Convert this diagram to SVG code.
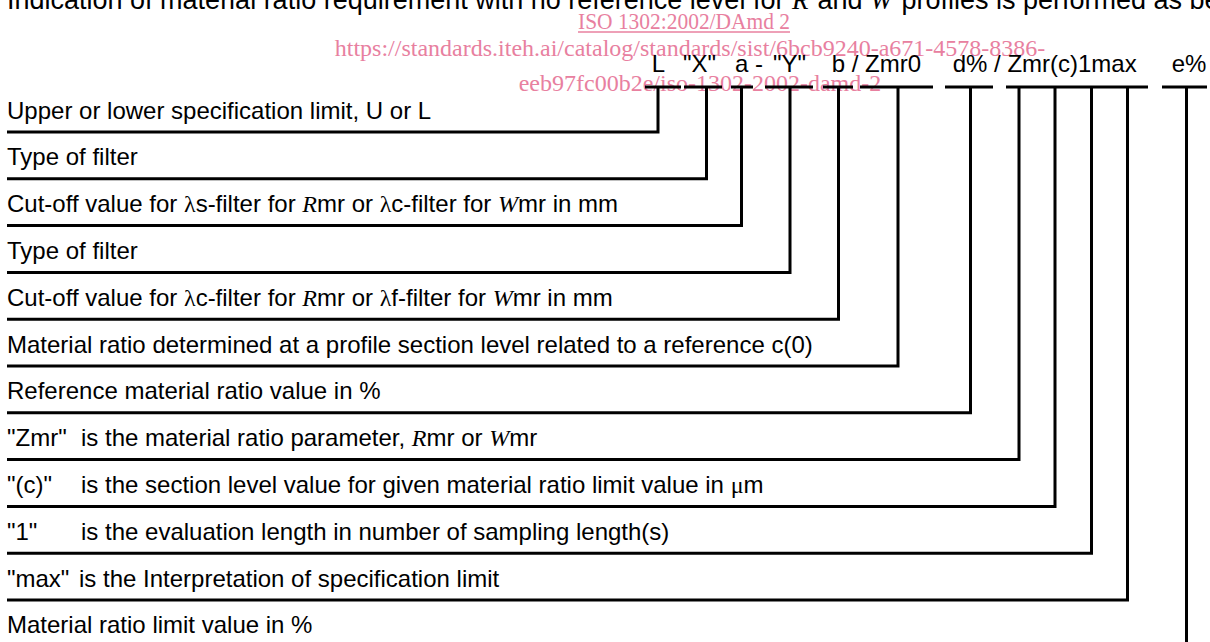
<svg xmlns="http://www.w3.org/2000/svg" width="1210" height="642" viewBox="0 0 1210 642">
<style>
  text { font-family: "Liberation Sans", Arial, sans-serif; font-size: 24px; fill: #000; }
  .it { font-family: "Liberation Serif", "Times New Roman", serif; font-style: italic; }
  .sym { font-family: "Liberation Serif", "Times New Roman", serif; }
  .wm { font-family: "Liberation Serif", "Times New Roman", serif; font-size: 24px; fill: #e8809f; }
  .ln { stroke: #000; stroke-width: 3; fill: none; }
</style>
<rect width="1210" height="642" fill="#fff"/>

<g id="header">
  <text x="7" y="9" style="font-size:27px">Indication of material ratio requirement with no reference level for <tspan class="it">R</tspan><tspan dx="9">and </tspan><tspan class="it">W</tspan><tspan dx="9">profiles is performed as below</tspan></text>
</g>

<g id="watermark">
  <text class="wm" x="578" y="29" textLength="212" lengthAdjust="spacingAndGlyphs">ISO 1302:2002/DAmd 2</text>
  <line x1="578" y1="32" x2="790" y2="32" stroke="#e8809f" stroke-width="1.5"/>
  <text class="wm" x="690" y="56" text-anchor="middle">https://standards.iteh.ai/catalog/standards/sist/6bcb9240-a671-4578-8386-</text>
  <text class="wm" x="700" y="91" text-anchor="middle">eeb97fc00b2e/iso-1302-2002-damd-2</text>
</g>

<g id="formula">
  <text x="651.7" y="72">L</text>
  <text x="683" y="72">"X"</text>
  <text x="735" y="72">a -</text>
  <text x="773" y="72">"Y"</text>
  <text x="831.7" y="72">b / Zmr0</text>
  <text x="952.7" y="72">d% / Zmr(c)1max</text>
  <text x="1171.7" y="72">e%</text>
  <path class="ln" d="M645 87H681 M684 87H722 M731 87H753 M765 87H813 M823 87H853 M860 87H933 M945 87H993 M1006 87H1148 M1162 87H1207"/>
</g>

<g id="label-1"><text x="7" y="118.5">Upper or lower specification limit, U or L</text></g>
<g id="label-2"><text x="7" y="165.3">Type of filter</text></g>
<g id="label-3"><text x="7" y="212.1">Cut-off value for <tspan class="sym">λ</tspan>s-filter for <tspan class="it">R</tspan>mr or <tspan class="sym">λ</tspan>c-filter for <tspan class="it">W</tspan>mr in mm</text></g>
<g id="label-4"><text x="7" y="258.9">Type of filter</text></g>
<g id="label-5"><text x="7" y="305.7">Cut-off value for <tspan class="sym">λ</tspan>c-filter for <tspan class="it">R</tspan>mr or <tspan class="sym">λ</tspan>f-filter for <tspan class="it">W</tspan>mr in mm</text></g>
<g id="label-6"><text x="7" y="352.5">Material ratio determined at a profile section level related to a reference c(0)</text></g>
<g id="label-7"><text x="7" y="399.3">Reference material ratio value in %</text></g>
<g id="label-8"><text x="7" y="446.1">"Zmr"<tspan x="81">is the material ratio parameter, </tspan><tspan class="it">R</tspan>mr or <tspan class="it">W</tspan>mr</text></g>
<g id="label-9"><text x="7" y="492.9">"(c)"<tspan x="81">is the section level value for given material ratio limit value in </tspan><tspan class="sym">μ</tspan>m</text></g>
<g id="label-10"><text x="7" y="539.7">"1"<tspan x="81">is the evaluation length in number of sampling length(s)</tspan></text></g>
<g id="label-11"><text x="7" y="586.5">"max"<tspan x="79">is the Interpretation of specification limit</tspan></text></g>
<g id="label-12"><text x="7" y="633.3">Material ratio limit value in %</text></g>

<g id="connectors">
  <polyline class="ln" points="658,87 658,132 7,132"/>
  <polyline class="ln" points="706.5,87 706.5,178.8 7,178.8"/>
  <polyline class="ln" points="741.5,87 741.5,225.6 7,225.6"/>
  <polyline class="ln" points="790,87 790,272.4 7,272.4"/>
  <polyline class="ln" points="838.5,87 838.5,319.2 7,319.2"/>
  <polyline class="ln" points="898,87 898,366 7,366"/>
  <polyline class="ln" points="970.5,87 970.5,412.8 7,412.8"/>
  <polyline class="ln" points="1019,87 1019,459.6 7,459.6"/>
  <polyline class="ln" points="1055,87 1055,506.4 7,506.4"/>
  <polyline class="ln" points="1091.5,87 1091.5,553.2 7,553.2"/>
  <polyline class="ln" points="1127.5,87 1127.5,600 7,600"/>
  <polyline class="ln" points="1186.5,87 1186.5,642"/>
</g>
</svg>
